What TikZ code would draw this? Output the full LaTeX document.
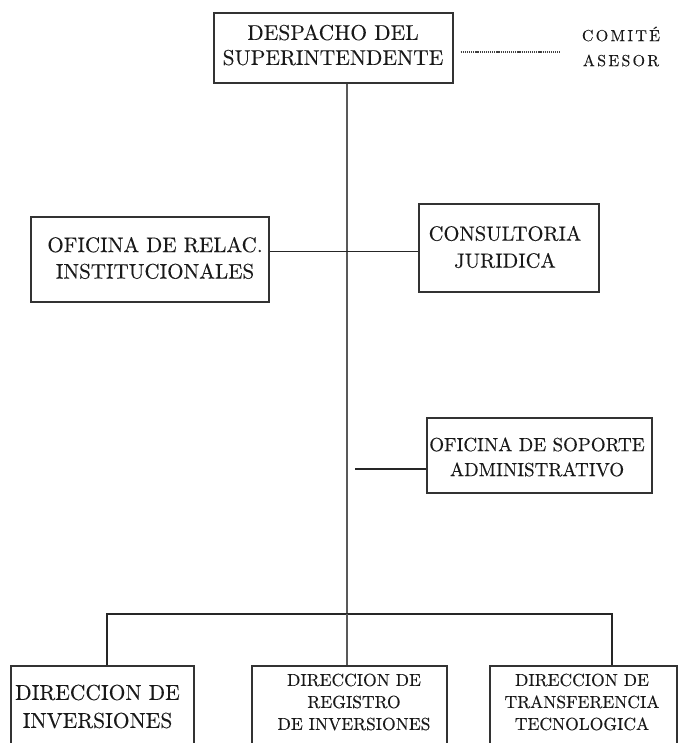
\documentclass[tikz,border=0pt]{standalone}
\usepackage{fontspec}
\setmainfont{lmroman10-regular.otf}[FakeBold=0.15]
\begin{document}
\begin{tikzpicture}[x=1pt,y=-1pt,
  box/.style={draw=black!80, line width=1.3pt, rectangle, inner sep=0pt},
  lbl/.style={align=center, inner sep=0pt, text=black!90},
  conn/.style={draw=black!85, line width=1.3pt},
  trunkline/.style={draw=black!65, line width=1.7pt},
  dotline/.style={draw=black!75, line width=1.1pt, dash pattern=on 1.2pt off 0.9pt}]
\clip (0,0) rectangle (678,743);
\fill[white] (0,0) rectangle (678,743);

% boxes
\node[box, minimum width=239pt, minimum height=70pt] (desp) at (333.5,48) {};
\node[box, minimum width=238pt, minimum height=85pt] (relac) at (150,259.5) {};
\node[box, minimum width=180pt, minimum height=88pt] (cons) at (509,248) {};
\node[box, minimum width=225pt, minimum height=75pt] (sop) at (539.5,455.5) {};
\node[box, minimum width=183pt, minimum height=94pt] (di) at (102.5,713) {};
\node[box, minimum width=195pt, minimum height=94pt] (dri) at (349.5,713) {};
\node[box, minimum width=187pt, minimum height=94pt] (dtt) at (583.5,713) {};

% labels
\node[lbl, font=\fontsize{21.5}{25}\selectfont] (desp-t) at (333,45) {DESPACHO DEL\\SUPERINTENDENTE};
\node[lbl, font=\fontsize{16}{25}\selectfont\addfontfeature{LetterSpace=14}] (comite) at (621,46.5) {COMITÉ\\ASESOR};
\node[lbl, font=\fontsize{21}{26.5}\selectfont] (relac-t) at (155,258) {OFICINA DE RELAC.\\INSTITUCIONALES};
\node[lbl, font=\fontsize{20.5}{27}\selectfont] (cons-t) at (505,247) {CONSULTORIA\\JURIDICA};
\node[lbl, font=\fontsize{19}{25}\selectfont] (sop-t) at (537,457) {OFICINA DE SOPORTE\\ADMINISTRATIVO};
\node[lbl, font=\fontsize{21.5}{28}\selectfont] (di-t) at (97.5,706.5) {DIRECCION DE\\INVERSIONES};
\node[lbl, font=\fontsize{17.5}{22}\selectfont] (dri-t) at (354,702) {DIRECCION DE\\REGISTRO\\DE INVERSIONES};
\node[lbl, font=\fontsize{17.5}{22}\selectfont] (dtt-t) at (582,702) {DIRECCION DE\\TRANSFERENCIA\\TECNOLOGICA};

% coordinates
\coordinate (j) at (347,614);
\coordinate (barL) at (107,614);
\coordinate (barR) at (612,614);
\coordinate (lineA) at (0,251.5);
\coordinate (sopL) at (355,469);
\coordinate (dotR) at (560,52);

% connectors
\draw[trunkline] (j |- desp.south) -- (j);
\draw[conn] (relac.east |- lineA) -- (cons.west |- lineA);
\draw[conn] (sopL) -- (sop.west |- sopL);
\draw[conn] (di.north -| barL) -- (barL) -- (barR) -- (dtt.north -| barR);
\draw[trunkline] (j) -- (dri.north -| j);
\draw[dotline] ([xshift=7pt]desp.east |- dotR) -- (dotR);
\end{tikzpicture}
\end{document}
